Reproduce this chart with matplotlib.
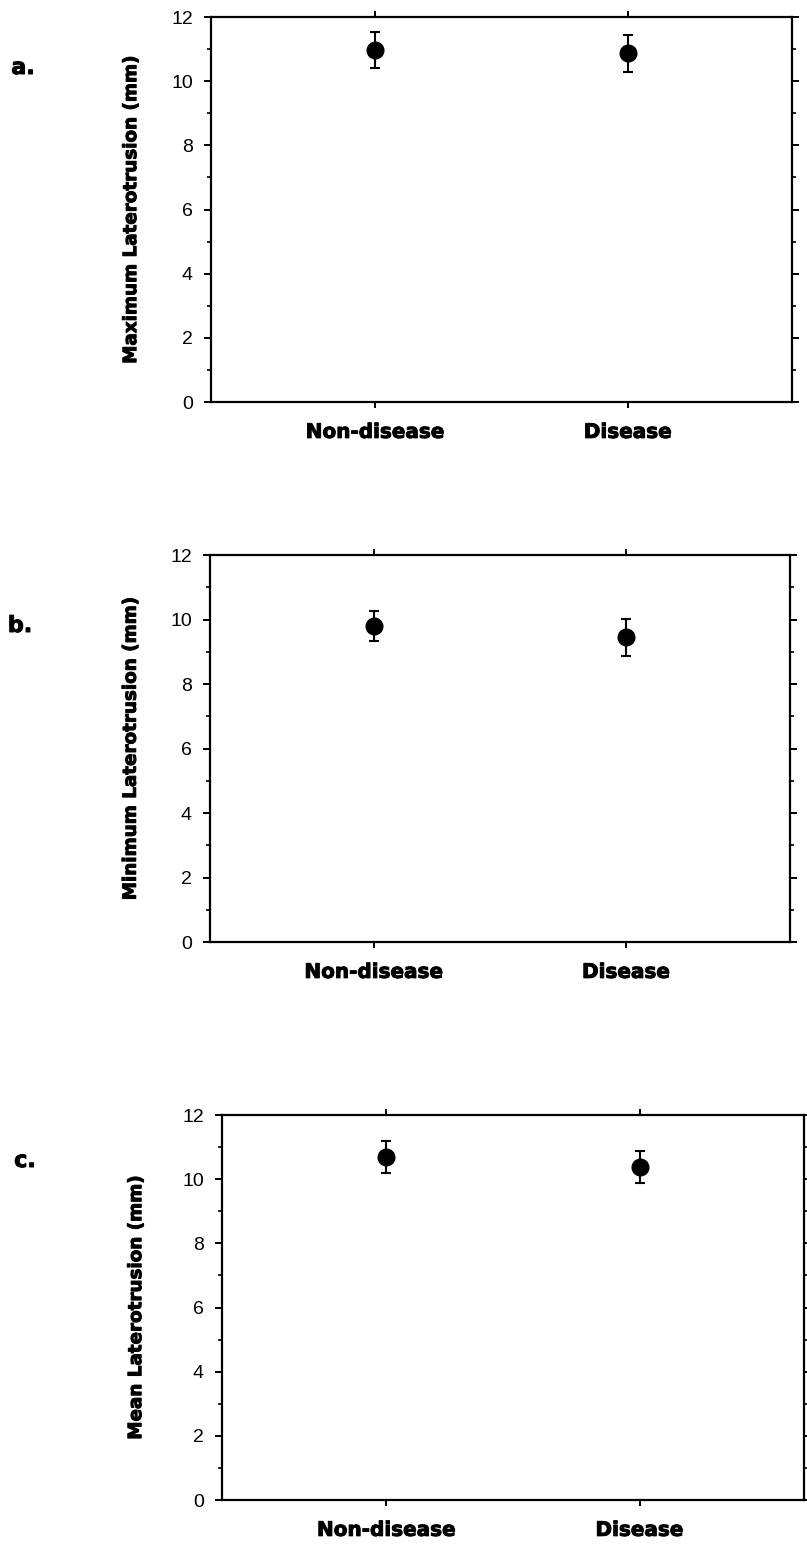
import matplotlib
matplotlib.use("Agg")
import matplotlib.pyplot as plt
import matplotlib.patheffects as pe
from matplotlib.ticker import MultipleLocator

# group means and error bars for each laterotrusion measure
groups = ["Non-disease", "Disease"]
max_mean = [10.97, 10.87]
max_err = [0.56, 0.57]
min_mean = [9.80, 9.45]
min_err = [0.47, 0.57]
avg_mean = [10.68, 10.38]
avg_err = [0.50, 0.50]

ylabels = ["Maximum Laterotrusion (mm)",
           "Minimum Laterotrusion (mm)",
           "Mean Laterotrusion (mm)"]
panel_tags = ["a.", "b.", "c."]

# axes boxes in figure fractions: left, bottom, width, height
boxes = [
    [0.2615, 0.7411, 0.7200, 0.2479],
    [0.2602, 0.3934, 0.7187, 0.2492],
    [0.2751, 0.0341, 0.7212, 0.2479],
]
# panel letters, pixel position from the top-left corner
tag_px = [(23, 68), (20, 626), (25, 1161)]
ylabel_x = [-0.122, -0.121, -0.132]

heavy = ["DejaVu Sans"]
plain = ["Liberation Sans", "DejaVu Sans"]
# thin outline to get a blacker weight than plain bold
thick = [pe.withStroke(linewidth=0.7, foreground="black")]

W, H = 807, 1553
fig = plt.figure(figsize=(W / 100, H / 100), dpi=100)

series = [(max_mean, max_err), (min_mean, min_err), (avg_mean, avg_err)]
for box, (means, errs), ylab, tag, tp, lx in zip(boxes, series, ylabels, panel_tags,
                                                 tag_px, ylabel_x):
    ax = fig.add_axes(box)
    x = range(len(groups))
    ax.errorbar(x, means, yerr=errs, fmt="o", color="black", markersize=12,
                elinewidth=1.5, capsize=3.5, capthick=1.5)

    ax.set_xlim(-0.65, 1.65)
    ax.set_ylim(0, 12)
    ax.yaxis.set_major_locator(MultipleLocator(2))
    ax.yaxis.set_minor_locator(MultipleLocator(1))
    ax.set_xticks(list(x))
    ax.set_xticklabels(groups, fontfamily=heavy, fontweight="bold", fontsize=14.4)
    for lbl in ax.get_xticklabels():
        lbl.set_path_effects(thick)

    for s in ax.spines.values():
        s.set_linewidth(1.6)

    ax.tick_params(axis="y", which="major", direction="out", length=5, width=1.4,
                   left=True, right=True, labelsize=14, pad=8)
    ax.tick_params(axis="y", which="minor", direction="out", length=3, width=1.2,
                   left=True, right=True)
    ax.tick_params(axis="x", which="major", direction="out", length=4, width=1.4,
                   top=True, bottom=True, pad=11)
    for lbl in ax.get_yticklabels():
        lbl.set_fontfamily(plain)

    ax.set_ylabel(ylab, fontfamily=heavy, fontweight="bold", fontsize=13.2,
                  path_effects=thick)
    ax.yaxis.set_label_coords(lx, 0.5)
    fig.text(tp[0] / W, 1 - tp[1] / H, tag, fontfamily=heavy, fontweight="bold",
             fontsize=16, ha="center", va="center", path_effects=thick)

fig.savefig("out.png", dpi=100)
